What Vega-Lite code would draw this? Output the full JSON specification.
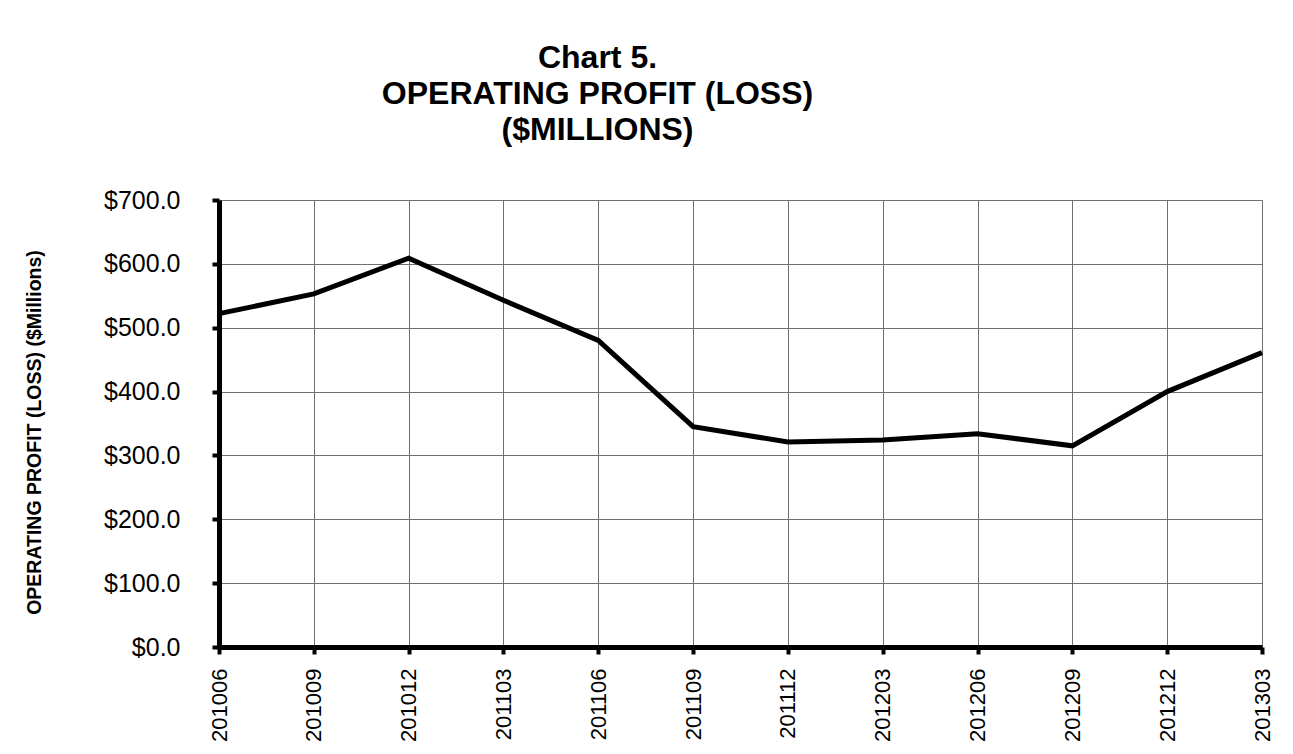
{
  "$schema": "https://vega.github.io/schema/vega-lite/v6.json",
  "width": 1043,
  "height": 447,
  "autosize": {"type": "none"},
  "padding": {"left": 219, "top": 200, "right": 31, "bottom": 107},
  "background": "white",
  "title": {
    "text": ["Chart 5.", "OPERATING PROFIT (LOSS)", "($MILLIONS)"],
    "font": "Liberation Sans",
    "fontSize": 32,
    "fontWeight": "bold",
    "lineHeight": 36,
    "color": "black",
    "anchor": "middle",
    "dx": -143,
    "offset": 41
  },
  "data": {
    "values": [
      {"period": "201006", "profit": 522},
      {"period": "201009", "profit": 553},
      {"period": "201012", "profit": 609},
      {"period": "201103", "profit": 543},
      {"period": "201106", "profit": 480},
      {"period": "201109", "profit": 345},
      {"period": "201112", "profit": 321},
      {"period": "201203", "profit": 324},
      {"period": "201206", "profit": 334},
      {"period": "201209", "profit": 315},
      {"period": "201212", "profit": 400},
      {"period": "201303", "profit": 461}
    ]
  },
  "mark": {"type": "line", "color": "black", "strokeWidth": 5, "strokeJoin": "miter"},
  "encoding": {
    "x": {
      "field": "period",
      "type": "ordinal",
      "scale": {"type": "point", "padding": 0},
      "axis": {
        "title": null,
        "labelAngle": -90,
        "labelFont": "Liberation Sans",
        "labelFontSize": 22,
        "labelColor": "black",
        "labelPadding": 14,
        "domainColor": "black",
        "domainWidth": 5,
        "tickColor": "black",
        "tickWidth": 4,
        "tickSize": 7,
        "grid": true,
        "gridColor": "#707070",
        "gridWidth": 1
      }
    },
    "y": {
      "field": "profit",
      "type": "quantitative",
      "scale": {"domain": [0, 700], "nice": false},
      "axis": {
        "title": "OPERATING  PROFIT  (LOSS)  ($Millions)",
        "titleFont": "Liberation Sans",
        "titleFontSize": 19.5,
        "titleFontWeight": "bold",
        "titleColor": "black",
        "titlePadding": 59,
        "titleY": 232,
        "values": [0, 100, 200, 300, 400, 500, 600, 700],
        "format": "$.1f",
        "labelFont": "Liberation Sans",
        "labelFontSize": 25,
        "labelColor": "black",
        "labelPadding": 32,
        "domainColor": "black",
        "domainWidth": 5,
        "tickColor": "black",
        "tickWidth": 4,
        "tickSize": 7,
        "grid": true,
        "gridColor": "#707070",
        "gridWidth": 1
      }
    }
  },
  "config": {"view": {"stroke": null}}
}
